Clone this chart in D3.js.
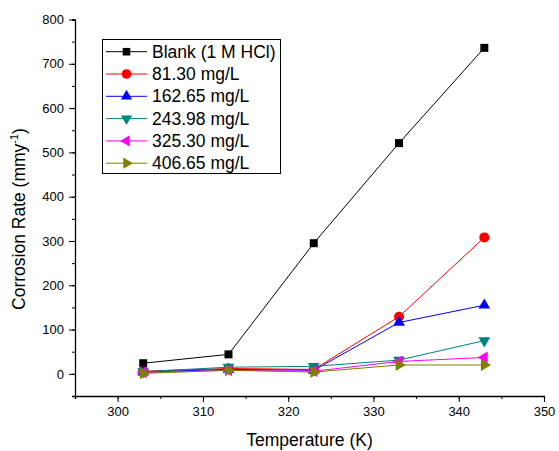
<!DOCTYPE html>
<html><head><meta charset="utf-8">
<script src="https://cdn.jsdelivr.net/npm/d3@7"></script>
<style>body{margin:0;background:#fff}svg{display:block}text{font-family:"Liberation Sans",Arial,sans-serif}</style>
</head><body>
<script>
const temps = [303, 313, 323, 333, 343];
const seriesNames = ["Blank (1 M HCl)", "81.30 mg/L", "162.65 mg/L", "243.98 mg/L", "325.30 mg/L", "406.65 mg/L"];
const blank = [24, 44, 295, 521, 736];
const c81 = [6, 12, 10, 129, 308];
const c162 = [4, 10, 8, 116, 155];
const c243 = [5, 15, 17, 31, 75];
const c325 = [3, 8, 6, 28, 37];
const c406 = [1, 8, 4, 20, 20];
const seriesValues = [blank, c81, c162, c243, c325, c406];
const colors = ["#000000", "#ff0000", "#0000ff", "#008080", "#ff00ff", "#808000"];
const xTicks = [300, 310, 320, 330, 340, 350];
const yTicks = [0, 100, 200, 300, 400, 500, 600, 700, 800];

const W = 559, H = 451;
const svg = d3.select("body").append("svg").attr("width", W).attr("height", H);
const x = d3.scaleLinear().domain([295, 350]).range([75, 544]);
const y = d3.scaleLinear().domain([-50, 800]).range([396, 19.5]);

// axes
const xAxis = svg.append("g").attr("transform", `translate(0,${y(-50)})`);
xAxis.call(d3.axisBottom(x).tickValues(d3.range(295, 351, 5)).tickSize(3).tickFormat(""));
const xMaj = svg.append("g").attr("transform", `translate(0,${y(-50)})`)
  .call(d3.axisBottom(x).tickValues(xTicks).tickSize(6).tickPadding(5));
xMaj.select(".domain").remove();
xMaj.selectAll("text").attr("font-size", 13).attr("fill", "#000");
xAxis.select(".domain").attr("stroke-width", 1.3);

const yAxis = svg.append("g").attr("transform", `translate(${x(295)},0)`);
yAxis.call(d3.axisLeft(y).tickValues(d3.range(-50, 801, 50)).tickSize(3).tickFormat(""));
yAxis.select(".domain").attr("stroke-width", 1.3);
const yMaj = svg.append("g").attr("transform", `translate(${x(295)},0)`)
  .call(d3.axisLeft(y).tickValues(yTicks).tickSize(6).tickPadding(5));
yMaj.select(".domain").remove();
yMaj.selectAll("text").attr("font-size", 13).attr("fill", "#000");

svg.append("text").attr("x", (x(295) + x(350)) / 2).attr("y", 446)
  .attr("text-anchor", "middle").attr("font-size", 17.5).text("Temperature (K)");
const yt = svg.append("text").attr("transform", `translate(25,219) rotate(-90)`)
  .attr("text-anchor", "middle").attr("font-size", 17.5);
yt.append("tspan").text("Corrosion Rate (mmy");
yt.append("tspan").attr("dy", -7).attr("font-size", 11).text("-1");
yt.append("tspan").attr("dy", 7).text(")");

function symPath(i, scale) {
  const types = [d3.symbolSquare, d3.symbolCircle, d3.symbolTriangle, d3.symbolTriangle, d3.symbolTriangle, d3.symbolTriangle];
  const sizes = [64, 80, 60, 60, 60, 60];
  return d3.symbol().type(types[i]).size(sizes[i] * scale)();
}
const rot = [0, 0, 0, 180, -90, 90];

const line = d3.line().x((d, i) => x(temps[i])).y(d => y(d));
seriesValues.forEach((vals, i) => {
  const g = svg.append("g");
  g.append("path").attr("d", line(vals)).attr("fill", "none").attr("stroke", colors[i]).attr("stroke-width", 1);
  g.selectAll("path.m").data(vals).join("path").attr("class", "m")
    .attr("d", symPath(i, 1))
    .attr("transform", (d, j) => `translate(${x(temps[j])},${y(d)}) rotate(${rot[i]})`)
    .attr("fill", colors[i]);
});

// legend
const lg = svg.append("g");
lg.append("rect").attr("x", 102.5).attr("y", 39.5).attr("width", 178).attr("height", 134)
  .attr("fill", "#fff").attr("stroke", "#000").attr("stroke-width", 1);
seriesNames.forEach((name, i) => {
  const cy = 51.7 + i * 22.3;
  lg.append("line").attr("x1", 106).attr("x2", 147).attr("y1", cy).attr("y2", cy)
    .attr("stroke", colors[i]).attr("stroke-width", 1);
  lg.append("path").attr("d", symPath(i, 0.9)).attr("transform", `translate(126.5,${cy}) rotate(${rot[i]})`).attr("fill", colors[i]);
  lg.append("text").attr("x", 152).attr("y", cy + 6).attr("font-size", 17.5).text(name);
});
</script>
</body></html>
